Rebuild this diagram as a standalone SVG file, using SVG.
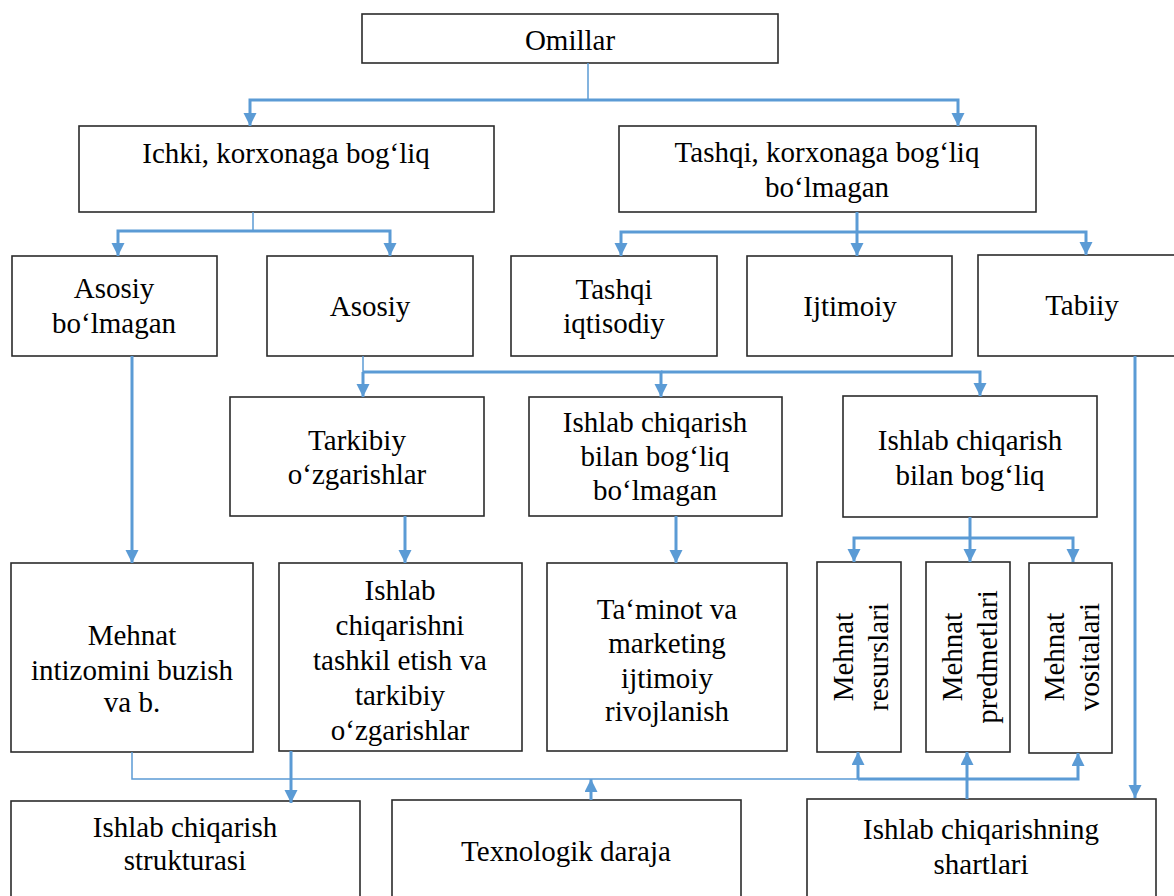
<svg xmlns="http://www.w3.org/2000/svg" width="1174" height="896" viewBox="0 0 1174 896">
<style>
.box{fill:#fff;stroke:#2b2b2b;stroke-width:1.6}
.t{font-family:'Liberation Serif','Times New Roman',Tinos,serif;font-size:29px;fill:#000;text-anchor:middle}
.thick{fill:none;stroke:#5b9bd5;stroke-width:3}
.thin{fill:none;stroke:#5b9bd5;stroke-width:1.5}
</style>
<defs>
<marker id="ah" markerUnits="userSpaceOnUse" markerWidth="14" markerHeight="14" refX="13" refY="6.5" orient="auto">
<path d="M0,0 L13,6.5 L0,13 z" fill="#5b9bd5"/>
</marker>
</defs>
<rect width="1174" height="896" fill="#fff"/>

<g font-family="Liberation Serif, Times New Roman, serif">
<g id="n-omillar"><rect class="box" x="362" y="14" width="416" height="49"/><text class="t" x="570" y="50">Omillar</text></g>
<g id="n-ichki"><rect class="box" x="79" y="126" width="415" height="86"/><text class="t" x="286" y="163">Ichki, korxonaga bog‘liq</text></g>
<g id="n-tashqi"><rect class="box" x="619" y="126" width="417" height="86"/><text class="t" x="827" y="162">Tashqi, korxonaga bog‘liq</text><text class="t" x="827" y="197">bo‘lmagan</text></g>

<g id="n-asosiy-bolmagan"><rect class="box" x="12" y="256" width="205" height="100"/><text class="t" x="114" y="298">Asosiy</text><text class="t" x="114" y="333">bo‘lmagan</text></g>
<g id="n-asosiy"><rect class="box" x="267" y="256" width="206" height="100"/><text class="t" x="370" y="316">Asosiy</text></g>
<g id="n-tashqi-iqtisodiy"><rect class="box" x="511" y="256" width="206" height="100"/><text class="t" x="614" y="299">Tashqi</text><text class="t" x="614" y="333">iqtisodiy</text></g>
<g id="n-ijtimoiy"><rect class="box" x="747" y="256" width="205" height="100"/><text class="t" x="850" y="316">Ijtimoiy</text></g>
<g id="n-tabiiy"><rect class="box" x="978" y="255" width="220" height="101"/><text class="t" x="1082" y="315">Tabiiy</text></g>

<g id="n-tarkibiy"><rect class="box" x="230" y="397" width="254" height="119"/><text class="t" x="357" y="450">Tarkibiy</text><text class="t" x="357" y="484">o‘zgarishlar</text></g>
<g id="n-ich-bolmagan"><rect class="box" x="529" y="397" width="253" height="119"/><text class="t" x="655" y="432">Ishlab chiqarish</text><text class="t" x="655" y="466">bilan bog‘liq</text><text class="t" x="655" y="500">bo‘lmagan</text></g>
<g id="n-ich-bogliq"><rect class="box" x="843" y="396" width="254" height="121"/><text class="t" x="970" y="450">Ishlab chiqarish</text><text class="t" x="970" y="485">bilan bog‘liq</text></g>

<g id="n-mehnat-intizom"><rect class="box" x="11" y="563" width="242" height="189"/><text class="t" x="132" y="645">Mehnat</text><text class="t" x="132" y="680">intizomini buzish</text><text class="t" x="132" y="712">va b.</text></g>
<g id="n-tashkil"><rect class="box" x="279" y="563" width="243" height="188"/><text class="t" x="400" y="600">Ishlab</text><text class="t" x="400" y="635">chiqarishni</text><text class="t" x="400" y="670">tashkil etish va</text><text class="t" x="400" y="705">tarkibiy</text><text class="t" x="400" y="740">o‘zgarishlar</text></g>
<g id="n-taminot"><rect class="box" x="547" y="563" width="240" height="188"/><text class="t" x="667" y="619">Ta‘minot va</text><text class="t" x="667" y="653">marketing</text><text class="t" x="667" y="688">ijtimoiy</text><text class="t" x="667" y="721">rivojlanish</text></g>

<g id="n-resurslari"><rect class="box" x="817" y="562" width="84" height="190"/><text class="t" transform="translate(853,657) rotate(-90)">Mehnat</text><text class="t" transform="translate(888,657) rotate(-90)">resurslari</text></g>
<g id="n-predmetlari"><rect class="box" x="926" y="562" width="84" height="190"/><text class="t" transform="translate(962,657) rotate(-90)">Mehnat</text><text class="t" transform="translate(997,657) rotate(-90)">predmetlari</text></g>
<g id="n-vositalari"><rect class="box" x="1029" y="563" width="83" height="190"/><text class="t" transform="translate(1064,657) rotate(-90)">Mehnat</text><text class="t" transform="translate(1099,657) rotate(-90)">vositalari</text></g>

<g id="n-struktura"><rect class="box" x="11" y="801" width="349" height="120"/><text class="t" x="185" y="837">Ishlab chiqarish</text><text class="t" x="185" y="870">strukturasi</text></g>
<g id="n-texnologik"><rect class="box" x="392" y="800" width="349" height="120"/><text class="t" x="566" y="861">Texnologik daraja</text></g>
<g id="n-shartlari"><rect class="box" x="807" y="799" width="349" height="120"/><text class="t" x="981" y="839">Ishlab chiqarishning</text><text class="t" x="981" y="874">shartlari</text></g>
</g>

<g id="connectors">
<path class="thin" d="M588,63 V100"/>
<path class="thick" d="M588,100 H250 V126" marker-end="url(#ah)"/>
<path class="thick" d="M588,100 H958 V126" marker-end="url(#ah)"/>

<path class="thin" d="M253,212 V231"/>
<path class="thick" d="M253,231 H118 V256" marker-end="url(#ah)"/>
<path class="thick" d="M253,231 H390 V256" marker-end="url(#ah)"/>

<path class="thick" d="M857,212 V256" marker-end="url(#ah)"/>
<path class="thick" d="M857,232 H621 V256" marker-end="url(#ah)"/>
<path class="thick" d="M857,232 H1086 V255" marker-end="url(#ah)"/>

<path class="thick" d="M132,356 V563" marker-end="url(#ah)"/>

<path class="thin" d="M363,356 V372"/>
<path class="thick" d="M363,372 V397" marker-end="url(#ah)"/>
<path class="thick" d="M363,372 H661 V397" marker-end="url(#ah)"/>
<path class="thick" d="M661,372 H980 V396" marker-end="url(#ah)"/>

<path class="thick" d="M405,516 V563" marker-end="url(#ah)"/>
<path class="thick" d="M676,516 V563" marker-end="url(#ah)"/>

<path class="thick" d="M970,517 V538"/>
<path class="thick" d="M970,538 H854 V562" marker-end="url(#ah)"/>
<path class="thick" d="M970,538 V562" marker-end="url(#ah)"/>
<path class="thick" d="M970,538 H1073 V562" marker-end="url(#ah)"/>

<path class="thick" d="M1135,356 V798" marker-end="url(#ah)"/>

<path class="thin" d="M132,752 V779 H858"/>
<path class="thick" d="M291,751 V803" marker-end="url(#ah)"/>
<path class="thick" d="M591,800 V779" marker-end="url(#ah)"/>
<path class="thick" d="M858,779 V752" marker-end="url(#ah)"/>
<path class="thick" d="M858,779 H1078 V753" marker-end="url(#ah)"/>
<path class="thick" d="M967,799 V752" marker-end="url(#ah)"/>
</g>
</svg>
